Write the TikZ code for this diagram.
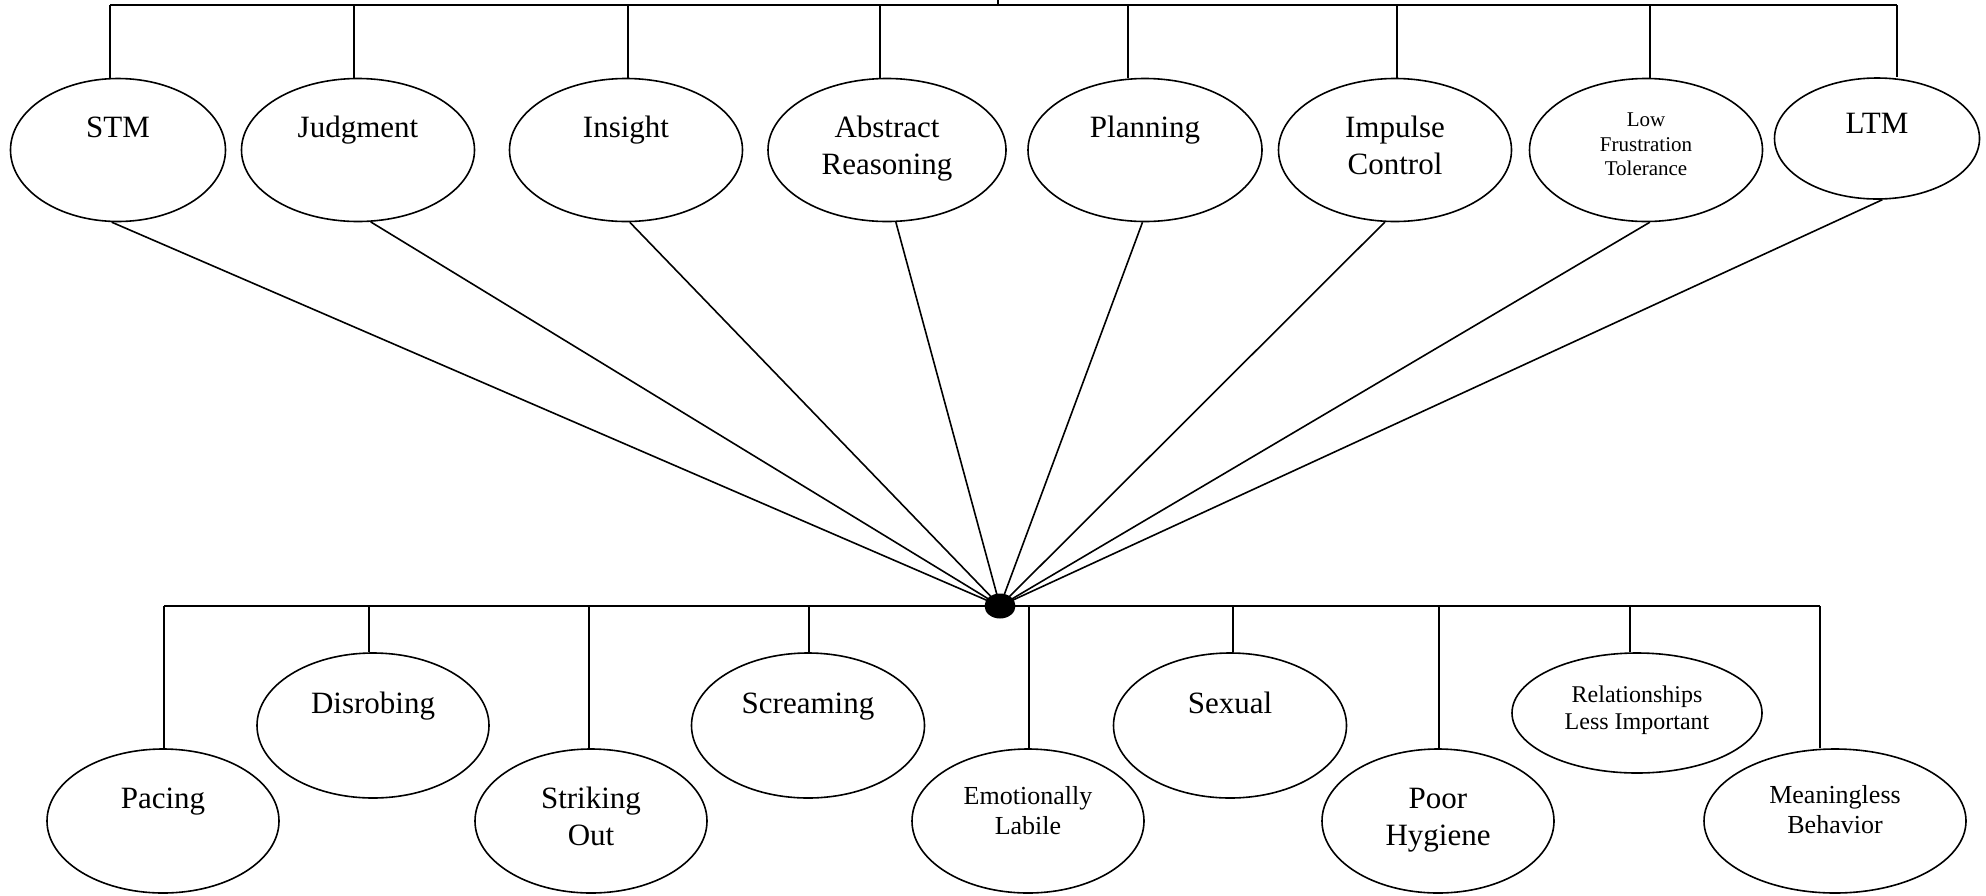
\documentclass[tikz,border=0pt]{standalone}
\usepackage{fontspec}
\setmainfont{Liberation Serif}
\usetikzlibrary{shapes.geometric}
\tikzset{
  oval/.style 2 args={ellipse, draw, line width=0.8pt, minimum width=#1, minimum height=#2, inner sep=0pt},
  big/.style={font=\fontsize{15.5}{18.5}\selectfont, align=center, anchor=north, inner sep=0pt},
  lft/.style={font=\fontsize{10.5}{12.25}\selectfont, align=center, anchor=north, inner sep=0pt},
  mid/.style={font=\fontsize{13}{15}\selectfont, align=center, anchor=north, inner sep=0pt},
  rel/.style={font=\fontsize{12}{13.5}\selectfont, align=center, anchor=north, inner sep=0pt},
  wire/.style={line width=0.8pt},
}
\begin{document}
\begin{tikzpicture}[x=0.5pt, y=-0.5pt]
\useasboundingbox (0,0) rectangle (1986,895);
% top ellipses
\node[oval={107.5pt}{71.5pt}] (stm) at (118,150) {};
\node[oval={116.5pt}{71.5pt}] (jud) at (358,150) {};
\node[oval={116.5pt}{71.5pt}] (ins) at (626,150) {};
\node[oval={119pt}{71.5pt}] (abs) at (887,150) {};
\node[oval={117pt}{71.5pt}] (pla) at (1145,150) {};
\node[oval={116.5pt}{71.5pt}] (imp) at (1395,150) {};
\node[oval={116.5pt}{71.5pt}] (lft) at (1646,150) {};
\node[oval={102.5pt}{60.5pt}] (ltm) at (1877,138.5) {};
% top texts
\node[big] (stm-t) at (118,111) {\strut STM};
\node[big] (jud-t) at (358,111) {\strut Judgment};
\node[big] (ins-t) at (626,111) {\strut Insight};
\node[big] (abs-t) at (887,111) {\strut Abstract\\Reasoning};
\node[big] (pla-t) at (1145,111) {\strut Planning};
\node[big] (imp-t) at (1395,111) {\strut Impulse\\Control};
\node[lft] (lft-t) at (1646,109) {\strut Low\\Frustration\\Tolerance};
\node[big] (ltm-t) at (1877,107) {\strut LTM};
% top bar
\coordinate (tb0) at (998,0);
\coordinate (tbm) at (998,5);
\coordinate (tb1) at (110,5);
\coordinate (tb2) at (354,5);
\coordinate (tb3) at (628,5);
\coordinate (tb4) at (880,5);
\coordinate (tb5) at (1128,5);
\coordinate (tb6) at (1397,5);
\coordinate (tb7) at (1650,5);
\coordinate (tb8) at (1897,5);
\draw[wire] (tb1) -- (tb8);
\draw[wire] (tb0) -- (tbm);
\draw[wire] (tb1) -- (tb1 |- stm.north);
\draw[wire] (tb2) -- (tb2 |- jud.north);
\draw[wire] (tb3) -- (tb3 |- ins.north);
\draw[wire] (tb4) -- (tb4 |- abs.north);
\draw[wire] (tb5) -- (tb5 |- pla.north);
\draw[wire] (tb6) -- (tb6 |- imp.north);
\draw[wire] (tb7) -- (tb7 |- lft.north);
\draw[wire] (tb8) -- (tb8 |- ltm.north);
% hub
\coordinate (hubc) at (1000,606);
\draw[wire] (stm.-95) -- (hubc);
\draw[wire] (jud.-80.5) -- (hubc);
\draw[wire] (ins.-87) -- (hubc);
\draw[wire] (abs.-83) -- (hubc);
\draw[wire] (pla.-92.4) -- (hubc);
\draw[wire] (imp.-98) -- (hubc);
\draw[wire] (lft.-87.6) -- (hubc);
\draw[wire] (ltm.-85.3) -- (hubc);
% bottom ellipses
\node[oval={116pt}{72pt}] (pac) at (163,821) {};
\node[oval={116pt}{72.5pt}] (dis) at (373,725.5) {};
\node[oval={116pt}{72pt}] (str) at (591,821) {};
\node[oval={116.5pt}{72.5pt}] (scr) at (808,725.5) {};
\node[oval={116pt}{72pt}] (emo) at (1028,821) {};
\node[oval={116.5pt}{72.5pt}] (sex) at (1230,725.5) {};
\node[oval={116pt}{72pt}] (poo) at (1438,821) {};
\node[oval={125pt}{60pt}] (rel) at (1637,713) {};
\node[oval={131pt}{72pt}] (mea) at (1835,821) {};
% bottom texts
\node[big] (pac-t) at (163,782) {\strut Pacing};
\node[big] (dis-t) at (373,687) {\strut Disrobing};
\node[big] (str-t) at (591,782) {\strut Striking\\Out};
\node[big] (scr-t) at (808,687) {\strut Screaming};
\node[mid] (emo-t) at (1028,783) {\strut Emotionally\\Labile};
\node[big] (sex-t) at (1230,687) {\strut Sexual};
\node[big] (poo-t) at (1438,782) {\strut Poor\\Hygiene};
\node[rel] (rel-t) at (1637,683) {\strut Relationships\\Less Important};
\node[mid] (mea-t) at (1835,782) {\strut Meaningless\\Behavior};
% bottom bar
\coordinate (bb1) at (164,606);
\coordinate (bb2) at (369,606);
\coordinate (bb3) at (589,606);
\coordinate (bb4) at (809,606);
\coordinate (bb5) at (1029,606);
\coordinate (bb6) at (1233,606);
\coordinate (bb7) at (1439,606);
\coordinate (bb8) at (1630,606);
\coordinate (bb9) at (1820,606);
\draw[wire] (bb1) -- (bb9);
\draw[wire] (bb1) -- (bb1 |- pac.north);
\draw[wire] (bb2) -- (bb2 |- dis.north);
\draw[wire] (bb3) -- (bb3 |- str.north);
\draw[wire] (bb4) -- (bb4 |- scr.north);
\draw[wire] (bb5) -- (bb5 |- emo.north);
\draw[wire] (bb6) -- (bb6 |- sex.north);
\draw[wire] (bb7) -- (bb7 |- poo.north);
\draw[wire] (bb8) -- (bb8 |- rel.north);
\draw[wire] (bb9) -- (bb9 |- mea.north);
\node[ellipse, fill=black, minimum width=15.5pt, minimum height=12.5pt, inner sep=0pt] (hub) at (hubc) {};
\end{tikzpicture}
\end{document}
